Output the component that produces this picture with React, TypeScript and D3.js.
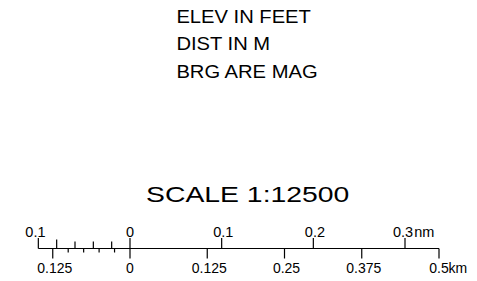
import React, { useRef, useEffect } from "react";
import * as d3 from "d3";

const notes = ["ELEV IN FEET", "DIST IN M", "BRG ARE MAG"];
const scaleTitle = "SCALE 1:12500";

const kmTicks = [-0.125, 0, 0.125, 0.25, 0.375, 0.5];
const kmLabels = ["0.125", "0", "0.125", "0.25", "0.375", "0.5"];
const kmMinor = [-0.1, -0.075, -0.05, -0.025];

const nmTicks = [-0.1, 0, 0.1, 0.2, 0.3];
const nmLabels = ["0.1", "0", "0.1", "0.2", "0.3"];
const nmMinor = [-0.08, -0.06, -0.04, -0.02];

const FONT = "'Liberation Sans', Arial, sans-serif";

const App = () => {
    const svgRef = useRef<SVGSVGElement>(null);
    const width = 477;
    const height = 281;
    const lineY = 248.5;

    const kmScale = d3.scaleLinear().domain([0, 0.5]).range([130, 439]);
    const nmScale = d3.scaleLinear().domain([0, 0.3]).range([130, 405]);

    useEffect(() => {
        const svg = d3.select(svgRef.current);
        svg.selectAll("*").remove();

        // notes at the top (font is a bit stretched horizontally)
        svg.append("g")
            .selectAll("text")
            .data(notes)
            .enter()
            .append("text")
            .attr("transform", (d, i) => `translate(176.4, ${22.5 + i * 27.5}) scale(1.085, 1)`)
            .attr("font-family", FONT)
            .attr("font-size", 18.6)
            .attr("fill", "#000")
            .text(d => d);

        // title
        svg.append("text")
            .attr("transform", "translate(146, 201.5) scale(1.32, 1)")
            .attr("font-family", FONT)
            .attr("font-size", 21.5)
            .attr("fill", "#000")
            .text(scaleTitle);

        const bar = svg.append("g")
            .attr("stroke", "#000")
            .attr("stroke-width", 1.2);

        // main line
        bar.append("line")
            .attr("x1", nmScale(nmTicks[0]))
            .attr("x2", kmScale(kmTicks[kmTicks.length - 1]))
            .attr("y1", lineY)
            .attr("y2", lineY);

        // nm ticks above
        bar.selectAll(".nm")
            .data(nmTicks)
            .enter()
            .append("line")
            .attr("x1", d => nmScale(d))
            .attr("x2", d => nmScale(d))
            .attr("y1", lineY - 10.5)
            .attr("y2", lineY);

        bar.selectAll(".nmMinor")
            .data(nmMinor)
            .enter()
            .append("line")
            .attr("x1", d => nmScale(d))
            .attr("x2", d => nmScale(d))
            .attr("y1", (d, i) => lineY - (i === 0 ? 9 : 7))
            .attr("y2", lineY);

        // km ticks below
        bar.selectAll(".km")
            .data(kmTicks)
            .enter()
            .append("line")
            .attr("x1", d => kmScale(d))
            .attr("x2", d => kmScale(d))
            .attr("y1", lineY)
            .attr("y2", lineY + 10);

        bar.selectAll(".kmMinor")
            .data(kmMinor)
            .enter()
            .append("line")
            .attr("x1", d => kmScale(d))
            .attr("x2", d => kmScale(d))
            .attr("y1", lineY)
            .attr("y2", lineY + 4);

        // nm labels: decimal point sits roughly over the tick
        const last = nmTicks.length - 1;
        const nmText = svg.append("g")
            .selectAll("text")
            .data(nmTicks)
            .enter()
            .append("text")
            .attr("x", (d, i) => d === 0 ? nmScale(d) : nmScale(d) - (i === 0 ? 13 : i === last ? 12 : 8.5))
            .attr("y", 236.5)
            .attr("text-anchor", d => d === 0 ? "middle" : "start")
            .attr("font-family", FONT)
            .attr("font-size", 14.5)
            .attr("fill", "#000")
            .text((d, i) => nmLabels[i]);
        nmText.filter((d, i) => i === last)
            .append("tspan")
            .attr("dx", 1)
            .text("nm");

        // km labels
        svg.append("g")
            .selectAll("text")
            .data(kmTicks)
            .enter()
            .append("text")
            .attr("x", (d, i) => kmScale(d) + (d === 0 || i === kmTicks.length - 1 ? 0 : 2))
            .attr("y", 272.5)
            .attr("text-anchor", "middle")
            .attr("font-family", FONT)
            .attr("font-size", 14)
            .attr("fill", "#000")
            .text((d, i) => kmLabels[i]);

        svg.append("text")
            .attr("x", kmScale(kmTicks[kmTicks.length - 1]) + 9.5)
            .attr("y", 272.5)
            .attr("font-family", FONT)
            .attr("font-size", 14)
            .attr("fill", "#000")
            .text("km");
    }, []);

    return (
        <div style={{ position: "absolute", left: 0, top: 0 }}>
            <svg ref={svgRef} width={width} height={height} style={{ display: "block", background: "#fff" }}></svg>
        </div>
    );
};

export default App;
